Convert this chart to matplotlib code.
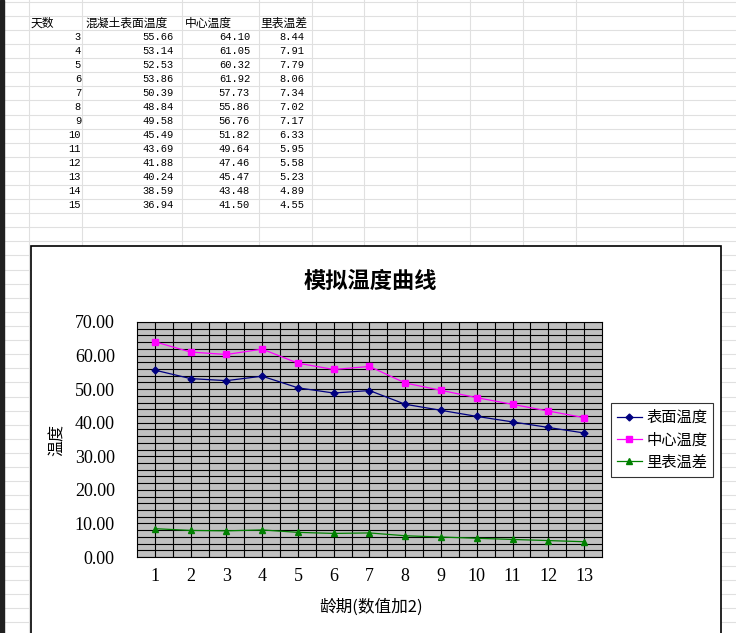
import numpy as np
import matplotlib
matplotlib.use("Agg")
import matplotlib.pyplot as plt
from matplotlib.patches import Rectangle
from matplotlib.ticker import MultipleLocator, FormatStrFormatter

plt.rcParams['font.family'] = ['Noto Sans CJK SC', 'DejaVu Sans']

# 表格数据
days = [3, 4, 5, 6, 7, 8, 9, 10, 11, 12, 13, 14, 15]
surface = [55.66, 53.14, 52.53, 53.86, 50.39, 48.84, 49.58, 45.49, 43.69, 41.88, 40.24, 38.59, 36.94]
center = [64.10, 61.05, 60.32, 61.92, 57.73, 55.86, 56.76, 51.82, 49.64, 47.46, 45.47, 43.48, 41.50]
diff = [8.44, 7.91, 7.79, 8.06, 7.34, 7.02, 7.17, 6.33, 5.95, 5.58, 5.23, 4.89, 4.55]
headers = ['天数', '混凝土表面温度', '中心温度', '里表温差']
age = [d - 2 for d in days]  # 龄期(数值加2)

W, H = 736, 633
fig = plt.figure(figsize=(W / 100, H / 100), dpi=100)

# 背景: 表格网格 (像素坐标)
bg = fig.add_axes([0, 0, 1, 1])
bg.set_xlim(0, W)
bg.set_ylim(H, 0)
bg.axis('off')
col_x = [29, 82, 182, 259, 312, 364, 417, 470, 523, 576, 683]
for k in range(46):
    y = 1.7 + 14.1 * k
    bg.plot([0, W], [y, y], color='#e0e0e0', lw=0.8, zorder=1)
for cx in col_x:
    bg.plot([cx, cx], [0, H], color='#e0e0e0', lw=0.8, zorder=1)
bg.add_patch(Rectangle((0, 0), 4, H, color='#202020', zorder=2))

# 表头和数值
hx = [31, 85, 185, 260]
for t, x in zip(headers, hx):
    bg.text(x, 23, t, fontsize=8.5, ha='left', va='center', zorder=3)
for i in range(len(days)):
    y = 37 + 14 * i
    bg.text(81, y, str(days[i]), fontsize=7.5, family='Liberation Mono', ha='right', va='center', zorder=3)
    bg.text(174, y, '%.2f' % surface[i], fontsize=7.5, family='Liberation Mono', ha='right', va='center', zorder=3)
    bg.text(250, y, '%.2f' % center[i], fontsize=7.5, family='Liberation Mono', ha='right', va='center', zorder=3)
    bg.text(304, y, '%.2f' % diff[i], fontsize=7.5, family='Liberation Mono', ha='right', va='center', zorder=3)

# 图表区
bg.add_patch(Rectangle((31, 246), 690, 420, facecolor='white', edgecolor='black', lw=1.2, zorder=4))
bg.text(370, 281, '模拟温度曲线', fontsize=16, fontweight='bold', ha='center', va='center', zorder=5)
bg.text(371, 607, '龄期(数值加2)', fontsize=12, ha='center', va='center', zorder=5)
bg.text(57, 440, '温度', fontsize=11.5, rotation=90, ha='center', va='center', zorder=5)

ax = fig.add_axes([137 / W, 1 - 557 / H, (602 - 137) / W, (557 - 322) / H])
ax.set_facecolor('#c0c0c0')
ax.plot(age, surface, color='#000080', marker='D', markersize=3.5, lw=0.9, label='表面温度')
ax.plot(age, center, color='#ff00ff', marker='s', markersize=5, lw=0.9, label='中心温度')
ax.plot(age, diff, color='#008000', marker='^', markersize=5, lw=0.9, label='里表温差')

ax.set_xlim(0.5, 13.5)
ax.set_ylim(0, 70)
ax.set_xticks(age)
ax.xaxis.set_minor_locator(MultipleLocator(1))
ax.xaxis.set_minor_locator(plt.FixedLocator(np.arange(1.5, 13.5, 1)))
ax.yaxis.set_major_locator(MultipleLocator(10))
ax.yaxis.set_minor_locator(MultipleLocator(2))
ax.yaxis.set_major_formatter(FormatStrFormatter('%.2f'))
ax.grid(which='both', color='black', lw=0.8)
ax.set_axisbelow(True)
ax.tick_params(which='both', length=0)
ax.tick_params(axis='y', pad=16)
ax.tick_params(axis='x', pad=8)
for lab in ax.get_xticklabels() + ax.get_yticklabels():
    lab.set_family('Liberation Serif')
    lab.set_fontsize(13)
for s in ax.spines.values():
    s.set_color('black')
    s.set_linewidth(0.8)

leg = ax.legend(loc='upper left', bbox_to_anchor=(611 / W, 1 - 403 / H), bbox_transform=fig.transFigure,
                fontsize=11, frameon=True, fancybox=False, borderaxespad=0, handlelength=1.6,
                handletextpad=0.3, labelspacing=0.35, borderpad=0.4)
leg.get_frame().set_edgecolor('black')
leg.get_frame().set_linewidth(0.8)

fig.savefig('out.png', dpi=100)
